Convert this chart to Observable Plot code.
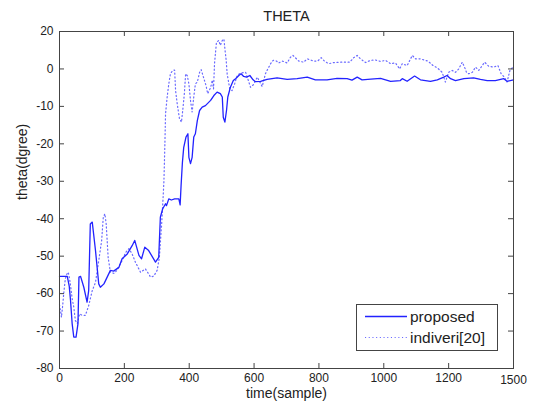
<!DOCTYPE html>
<html><head><meta charset="utf-8">
<script src="https://cdn.jsdelivr.net/npm/d3@7"></script>
<script src="https://cdn.jsdelivr.net/npm/@observablehq/plot@0.6"></script>
<style>
body{margin:0;background:#fff}
svg{font-family:"Liberation Sans",Arial,sans-serif}
</style>
</head><body><div id="chart"></div>
<script>
// ---- data ----
const propX = [0,24,30,34,39,44,51,57,60,65,75,85,90,95,101,111,121,126,137,147,157,167,183,193,209,224,232,245,253,263,275,296,306,311,318,327,330,337,345,355,368,372,375,379,383,390,396,399,404,409,414,419,425,432,440,450,466,476,486,496,502,505,510,515,519,527,536,543,553,560,568,577,587,597,604,620,640,671,702,733,764,789,825,856,887,902,918,933,960,990,1021,1051,1057,1072,1095,1113,1144,1165,1185,1195,1206,1221,1247,1277,1298,1319,1344,1370,1380,1400];
const propY = [-55.4,-55.4,-58,-61.8,-68,-71.6,-71.6,-68,-55.6,-55.4,-58.3,-62.3,-59.2,-41.4,-40.9,-48.5,-57.4,-58.3,-57.4,-55.6,-53.8,-54,-53,-50.7,-49.4,-47.2,-45.8,-49.8,-50.7,-47.6,-48.5,-51.6,-50.3,-39.6,-37.4,-36,-36.5,-34.7,-35,-34.7,-34.7,-36.3,-31,-25,-21,-18.2,-17.3,-23.6,-25.3,-23.6,-18.2,-17.3,-13.8,-11.1,-10.2,-9.8,-8.4,-7.1,-6.2,-6.6,-7.5,-12.9,-14.2,-11.1,-7.5,-4.9,-3.1,-2.6,-1.75,-1.3,-2,-2.2,-1.75,-2.9,-3.4,-3.3,-2.8,-2.4,-2.8,-2.6,-2.2,-2.9,-2.9,-2.5,-2.6,-3.0,-2.2,-2.9,-2.7,-2.5,-3.3,-3.1,-2.6,-3.3,-1.9,-2.9,-3.3,-2.9,-2.2,-1.75,-2.6,-3.1,-2.6,-2.4,-2.8,-3.1,-3.1,-2.6,-3.3,-2.9];

const indX = [0,3,6,10,13,18,24,27,31,34,39,44,49,55,62,70,80,90,101,111,121,130,135,140,144,150,157,168,177,193,204,214,224,234,250,265,281,291,301,308,315,319,322,325,327,332,337,342,349,355,358,363,370,376,380,385,389,394,399,404,409,414,419,425,432,437,445,452,457,466,471,475,478,484,491,496,502,507,510,514,517,525,532,540,548,558,574,584,589,597,610,625,635,640,651,659,669,676,687,702,712,720,738,753,764,784,796,807,817,830,846,866,877,895,907,918,928,944,959,974,990,1005,1021,1036,1049,1057,1072,1088,1098,1113,1136,1152,1165,1180,1190,1200,1211,1221,1231,1242,1249,1255,1262,1273,1283,1293,1311,1324,1339,1352,1362,1372,1380,1389,1396];
const indY = [-63,-64.5,-66.3,-63,-60,-56,-54.5,-54.3,-56,-57.8,-61.3,-63.6,-67.2,-68,-65.4,-65.8,-65.8,-63.2,-59.2,-57,-51.2,-45.8,-39.6,-38.7,-41.4,-50.3,-54.3,-54.6,-53.8,-51.2,-49,-48,-49.4,-51.6,-54.3,-53.4,-55.6,-55.3,-53.8,-50.3,-41.4,-35.1,-30,-20,-12,-7.5,-4,-1.3,-0.4,-0.3,-5.8,-9.3,-13.3,-14.2,-11.1,-6.6,-1.3,-1.8,-4,-8.4,-11.5,-7.5,-4,-3.5,-0.9,-0.2,-2.5,-4.5,-6.6,-5,-3,-5.3,1.4,7.1,7.6,6.3,7.6,8.0,5.4,2.3,-1.3,-5.3,-5.8,-4,-1.75,-1.1,-0.9,-3.5,-4.9,-4.3,-2.2,-4.7,-1.3,-0.4,1.4,2.3,2.1,1.6,2.1,1.6,3.1,3.6,2.1,1.8,2.7,2.1,2.1,3,2.1,1.4,1.7,1.8,1.8,1.8,3.0,3.6,2.7,1.7,2.3,2.4,2.0,2.3,1.4,1.6,0.0,1.4,0.9,3.6,2.7,2.7,2.1,0.9,0.3,-0.9,-3.5,-0.9,-0.4,-0.9,0,1.8,0.5,-0.9,-1.3,-0.9,0.5,-0.4,1.8,0.7,0.5,0.9,-1.3,-2.2,-3.5,-0.4,0.3];

const xTicks = [0,200,400,600,800,1000,1200,1400];
const xTickLabels = ["0","200","400","600","800","1000","1200","1500"];
const yTicks = [-80,-70,-60,-50,-40,-30,-20,-10,0,10];
const yTickLabels = ["-80","-70","-60","-50","-40","-30","-20","-10","0","20"];
const seriesNames = ["proposed","indiveri[20]"];
const titleText = "THETA";
const xLabel = "time(sample)";
const yLabel = "theta(dgree)";

// ---- build ----
const prop = propX.map((x,i)=>({x, y:propY[i]}));
const ind = indX.map((x,i)=>({x, y:indY[i]}));
const W=534, H=411, mL=59, mR=21, mT=31, mB=43;
const innerW=W-mL-mR, innerH=H-mT-mB;
const axisCol="#444";
const solidCol="#2222ff", dotCol="#6a6aff";
const dash="1.1,2.6";
const fmtX = d => xTickLabels[xTicks.indexOf(d)];
const fmtY = d => yTickLabels[yTicks.indexOf(d)];

const chart = Plot.plot({
  width:W, height:H, marginLeft:mL, marginRight:mR, marginTop:mT, marginBottom:mB,
  style:{fontFamily:'"Liberation Sans",Arial,sans-serif', fontSize:"12px", color:"#222", background:"#fff", overflow:"visible"},
  x:{domain:[0,1400]},
  y:{domain:[-80,10]},
  marks:[
    Plot.line(ind,{x:"x",y:"y",stroke:dotCol,strokeWidth:1.2,strokeDasharray:dash}),
    Plot.line(prop,{x:"x",y:"y",stroke:solidCol,strokeWidth:1.3}),
    Plot.frame({stroke:axisCol}),
    Plot.ruleX(xTicks,{x:d=>d,insetTop:innerH-5,stroke:axisCol}),
    Plot.ruleX(xTicks,{x:d=>d,insetBottom:innerH-5,stroke:axisCol}),
    Plot.ruleY(yTicks,{y:d=>d,insetRight:innerW-5,stroke:axisCol}),
    Plot.ruleY(yTicks,{y:d=>d,insetLeft:innerW-5,stroke:axisCol}),
    Plot.axisX(xTicks.slice(0,-1),{tickSize:0,tickPadding:5,tickFormat:fmtX,label:null,fontSize:12}),
    Plot.axisX([1400],{tickSize:0,tickPadding:7,tickFormat:fmtX,label:null,fontSize:12}),
    Plot.axisY(yTicks,{tickSize:0,tickPadding:6,tickFormat:fmtY,label:null,fontSize:12}),
    Plot.text([titleText],{frameAnchor:"top",dy:-21,fontSize:14.5,fill:"#222"}),
    Plot.text([xLabel],{frameAnchor:"bottom",dy:29,fontSize:14,fill:"#222"}),
    Plot.text([yLabel],{frameAnchor:"left",dx:-37,rotate:-90,fontSize:14,fill:"#222"})
  ]
});
document.getElementById("chart").appendChild(chart);

// legend
const svg = d3.select(chart);
const lg = svg.append("g");
lg.append("rect").attr("x",356.5).attr("y",304.5).attr("width",141).attr("height",46)
  .attr("fill","#fff").attr("stroke",axisCol);
lg.append("line").attr("x1",365).attr("x2",407).attr("y1",316.5).attr("y2",316.5)
  .attr("stroke",solidCol).attr("stroke-width",1.3);
lg.append("line").attr("x1",365).attr("x2",407).attr("y1",337.5).attr("y2",337.5)
  .attr("stroke",dotCol).attr("stroke-width",1.2).attr("stroke-dasharray",dash);
lg.append("text").attr("x",410).attr("y",322).attr("text-anchor","start").attr("font-size",15.5).attr("fill","#222").text(seriesNames[0]);
lg.append("text").attr("x",410).attr("y",343).attr("text-anchor","start").attr("font-size",15.5).attr("fill","#222").text(seriesNames[1]);
</script>
</body></html>
